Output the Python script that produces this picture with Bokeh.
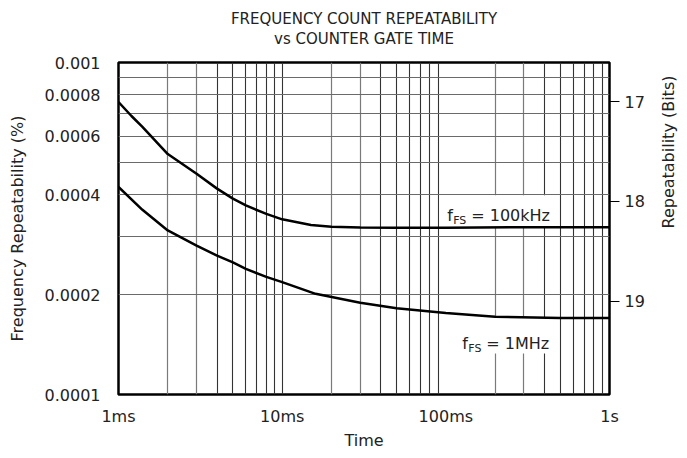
import math
from bokeh.plotting import figure
from bokeh.models import (Range1d, LinearScale, LinearAxis, FixedTicker, Grid,
                          Title, Label, BoxAnnotation)
from bokeh.embed import file_html
from bokeh.resources import INLINE

# ---------------- data ----------------
gate_time_100k = [0.001, 0.0012, 0.0014, 0.002, 0.003, 0.004, 0.005, 0.006,
                  0.008, 0.010, 0.015, 0.020, 0.030, 0.050, 0.100, 0.300, 1.0]
repeat_100k = [7.6e-4, 6.9e-4, 6.4e-4, 5.3e-4, 4.62e-4, 4.17e-4, 3.89e-4, 3.71e-4,
               3.50e-4, 3.37e-4, 3.24e-4, 3.20e-4, 3.185e-4, 3.18e-4, 3.18e-4, 3.19e-4, 3.19e-4]

gate_time_1m = [0.001, 0.0014, 0.002, 0.003, 0.004, 0.005, 0.006, 0.008,
                0.010, 0.016, 0.030, 0.050, 0.100, 0.200, 0.500, 1.0]
repeat_1m = [4.22e-4, 3.6e-4, 3.12e-4, 2.81e-4, 2.62e-4, 2.50e-4, 2.39e-4, 2.26e-4,
             2.18e-4, 2.01e-4, 1.89e-4, 1.82e-4, 1.76e-4, 1.715e-4, 1.70e-4, 1.70e-4]

x_ticks = [0.001, 0.01, 0.1, 1.0]
x_tick_labels = ["1ms", "10ms", "100ms", "1s"]
y_ticks = [0.0001, 0.0002, 0.0004, 0.0006, 0.0008, 0.001]
y_tick_labels = ["0.0001", "0.0002", "0.0004", "0.0006", "0.0008", "0.001"]
bits_ticks = [17, 18, 19]

x_grid_light = [0.002, 0.003, 0.02, 0.03, 0.2, 0.3]
x_grid_dark = [0.004, 0.005, 0.006, 0.007, 0.008, 0.009, 0.010,
               0.04, 0.05, 0.06, 0.07, 0.08, 0.09,
               0.4, 0.5, 0.6, 0.7, 0.8, 0.9]
y_grid = [0.0002, 0.0003, 0.0004, 0.0005, 0.0006, 0.0007, 0.0008, 0.0009]

title_lines = ["FREQUENCY COUNT REPEATABILITY", "vs COUNTER GATE TIME"]

FONT = "DejaVu Sans"
TXT = "#222222"

p = figure(frame_width=491, frame_height=332, x_axis_type="log", y_axis_type="log",
           x_range=Range1d(1e-3, 1.0), y_range=Range1d(1e-4, 1e-3),
           output_backend="svg", toolbar_location=None, title=None,
           min_border_left=118, min_border_right=69, min_border_top=62,
           min_border_bottom=54)
p.background_fill_color = "white"
p.border_fill_color = "white"
p.outline_line_color = "black"
p.outline_line_width = 2.5

# grids
p.xgrid.visible = False
p.ygrid.visible = False
p.add_layout(Grid(dimension=0, ticker=FixedTicker(ticks=x_grid_light),
                  grid_line_color="#7a7a7a", grid_line_width=1.2))
p.add_layout(Grid(dimension=0, ticker=FixedTicker(ticks=x_grid_dark),
                  grid_line_color="#333333", grid_line_width=1.1))
p.add_layout(Grid(dimension=1, ticker=FixedTicker(ticks=y_grid),
                  grid_line_color="#6a6a6a", grid_line_width=1.2))

# white label backgrounds
p.add_layout(BoxAnnotation(left=0.0914, right=0.467, bottom=3.2e-4, top=3.98e-4,
                           fill_color="white", fill_alpha=1.0, line_color=None,
                           level="underlay"))
p.add_layout(BoxAnnotation(left=0.098, right=0.467, bottom=1.33e-4, top=1.71e-4,
                           fill_color="white", fill_alpha=1.0, line_color=None,
                           level="underlay"))

# curves
p.line(gate_time_100k, repeat_100k, line_color="black", line_width=2.5)
p.line(gate_time_1m, repeat_1m, line_color="black", line_width=2.5)

# axes
xa = p.xaxis[0]
xa.ticker = FixedTicker(ticks=x_ticks)
xa.major_label_overrides = {t: l for t, l in zip(x_ticks, x_tick_labels)}
xa.axis_label = "Time"
xa.major_label_standoff = 12
xa.axis_label_standoff = 2

ya = p.yaxis[0]
ya.ticker = FixedTicker(ticks=y_ticks)
ya.major_label_overrides = {t: l for t, l in zip(y_ticks, y_tick_labels)}
ya.axis_label = "Frequency Repeatability (%)"
ya.major_label_standoff = 18
ya.axis_label_standoff = 15

p.extra_y_ranges = {"bits": Range1d(start=-math.log2(1e-6), end=-math.log2(1e-5))}
p.extra_y_scales = {"bits": LinearScale()}
ra = LinearAxis(y_range_name="bits", ticker=FixedTicker(ticks=bits_ticks),
                axis_label="Repeatability (Bits)")
p.add_layout(ra, "right")
ra.major_tick_out = 10
ra.major_tick_in = 0
ra.major_tick_line_color = "black"
ra.major_tick_line_width = 1
ra.major_label_standoff = 5
ra.axis_label_standoff = 21
ra.axis_label_orientation = math.pi / 2

for ax in (xa, ya, ra):
    ax.axis_line_color = None
    ax.minor_tick_line_color = None
    ax.major_label_text_font = FONT
    ax.major_label_text_font_size = "16px"
    ax.major_label_text_color = TXT
    ax.axis_label_text_font = FONT
    ax.axis_label_text_font_size = "16px"
    ax.axis_label_text_font_style = "normal"
    ax.axis_label_text_color = TXT
for ax in (xa, ya):
    ax.major_tick_line_color = None
    ax.major_tick_out = 0
    ax.major_tick_in = 0

# spacer between frame and title block, then the two title lines
p.add_layout(Title(text=" ", align="center", text_font=FONT, text_font_size="11px",
                   text_color="white", standoff=0), "above")
p.add_layout(Title(text=title_lines[1], align="center", text_font=FONT,
                   text_font_size="15px", text_font_style="normal",
                   text_color=TXT, standoff=0), "above")
p.add_layout(Title(text=title_lines[0], align="center", text_font=FONT,
                   text_font_size="15px", text_font_style="normal",
                   text_color=TXT, standoff=0), "above")

# curve labels
def add_curve_label(x, y, rest):
    p.add_layout(Label(x=x, y=y, text="f", text_font=FONT, text_font_size="16px",
                       text_color=TXT, text_baseline="alphabetic"))
    p.add_layout(Label(x=x, y=y, x_offset=6, y_offset=-5, text="FS", text_font=FONT,
                       text_font_size="11px", text_color=TXT, text_baseline="alphabetic"))
    p.add_layout(Label(x=x, y=y, x_offset=24, text=rest, text_font=FONT,
                       text_font_size="16px", text_color=TXT, text_baseline="alphabetic"))

add_curve_label(0.102, 3.46e-4, "= 100kHz")
add_curve_label(0.126, 1.42e-4, "= 1MHz")

open("out.html", "w").write(file_html(p, INLINE))
